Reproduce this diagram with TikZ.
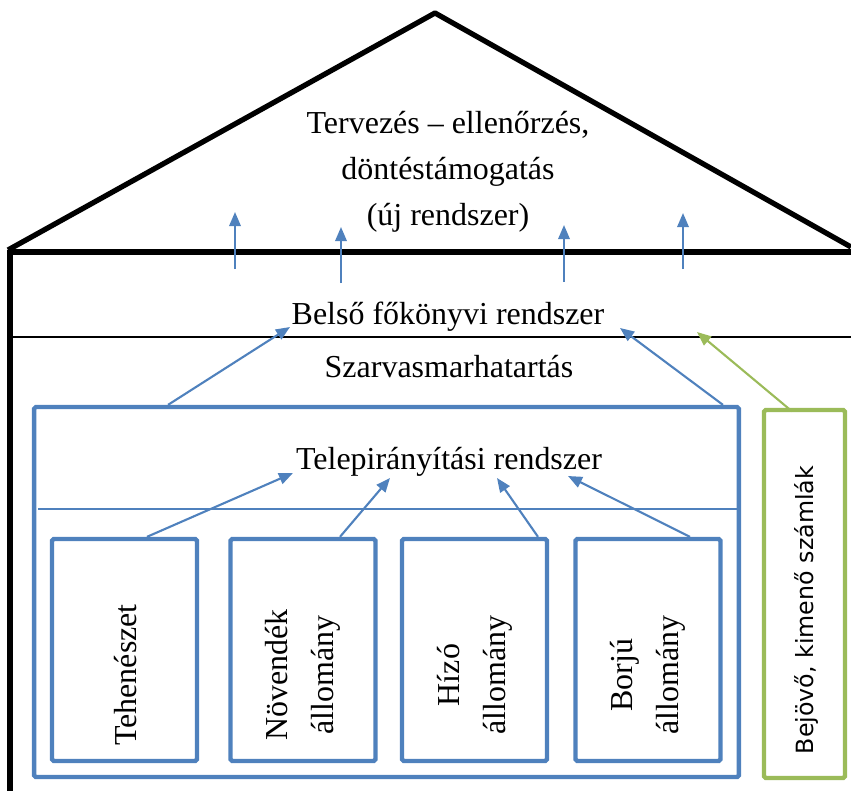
\documentclass[tikz,border=0pt]{standalone}
\usepackage{fontspec}
\setmainfont{Liberation Serif}
\newfontfamily\billfont{DejaVu Sans}
\usetikzlibrary{arrows.meta,positioning}
\definecolor{farmblue}{HTML}{4F81BD}
\definecolor{billgreen}{HTML}{9BBB59}

\begin{document}
\begin{tikzpicture}[x=0.02cm, y=-0.02cm,
    every node/.append style={inner sep=0pt, font=\fontsize{18.2}{26.2}\selectfont},
    housewall/.style={draw=black, line width=3pt},
    storey/.style={draw=black, line width=0.9pt},
    unitbox/.style={draw=farmblue, line width=2.5pt, rounded corners=1pt,
      minimum width=2.9cm, minimum height=4.44cm},
    billbox/.style={draw=billgreen, line width=2.5pt, rounded corners=1pt},
    vtext/.style={rotate=90, align=center},
    flow/.style={draw=farmblue, line width=1.2pt, -{Triangle[length=8pt, width=6.5pt]}},
    billflow/.style={draw=billgreen, line width=1.2pt, -{Triangle[length=8pt, width=6.5pt]}}]
  \useasboundingbox (0,0) rectangle (851,791);

  % the house
  \draw[housewall, line join=round] (8,250) -- (435,13) -- (851,247);
  \draw[housewall] (8,252) -- (851,252);
  \draw[housewall] (10,250) -- (10,791);
  \draw[storey] (10,337) -- (851,337);

  % texts of the floors
  \node (plan) at (448,172) [align=center] {Tervezés – ellenőrzés,\\döntéstámogatás\\(új rendszer)};
  \node (ledger) at (448,317) {Belső főkönyvi rendszer};
  \node (cattle) at (449,367) {Szarvasmarhatartás};

  % the farm and its units
  \node (herd) at (386.5,592) [unitbox, minimum width=14.1cm, minimum height=7.4cm] {};
  \node (farmsys) at (449,462) {Telepirányítási rendszer};
  \draw[farmblue, line width=0.9pt] (38,509) -- (738,509);
  \node (cow) at (124.5,650) [unitbox] {};
  \node (heifer) at (303,650) [unitbox] {};
  \node (fattening) at (474.5,650) [unitbox] {};
  \node (calf) at (648,650) [unitbox] {};
  \node (cowlabel) at (126,675) [vtext] {Tehenészet};
  \node (heiferlabel) at (303,675) [vtext] {Növendék\\állomány};
  \node (fatteninglabel) at (475,675) [vtext] {Hízó\\állomány};
  \node (calflabel) at (648,675) [vtext] {Borjú\\állomány};

  % invoices
  \node (bills) at (804.5,594) [billbox, minimum width=1.62cm, minimum height=7.36cm] {};
  \node (billlabel) at (806,610) [vtext, font=\billfont\fontsize{13.5}{16}\selectfont] {Bejövő, kimenő számlák};

  % arrow ends
  \coordinate (cowtip) at (293,473);
  \coordinate (heifertip) at (390,478);
  \coordinate (fatteningtip) at (497,478);
  \coordinate (calftip) at (568,476);
  \coordinate (herdtipa) at (290,327);
  \coordinate (herdtipb) at (620,328);
  \coordinate (billtip) at (697,332);

  \draw[flow] ([xshift=0.45cm]cow.north) -- (cowtip);
  \draw[flow] ([xshift=0.74cm]heifer.north) -- (heifertip);
  \draw[flow] ([xshift=1.27cm]fattening.north) -- (fatteningtip);
  \draw[flow] ([xshift=0.84cm]calf.north) -- (calftip);
  \draw[flow] ([xshift=-4.37cm]herd.north) -- (herdtipa);
  \draw[flow] ([xshift=6.73cm]herd.north) -- (herdtipb);
  \draw[billflow] ([xshift=-0.25cm,yshift=-2pt]bills.north) -- (billtip);

  % up to the roof
  \foreach \name/\x/\from/\to in {ra/235/269/212, rb/341/283/227, rc/564/282/225, rd/683/269/213} {
    \coordinate (\name foot) at (\x,\from);
    \coordinate (\name tip) at (\x,\to);
    \draw[flow] (\name foot) -- (\name tip);
  }
\end{tikzpicture}
\end{document}
